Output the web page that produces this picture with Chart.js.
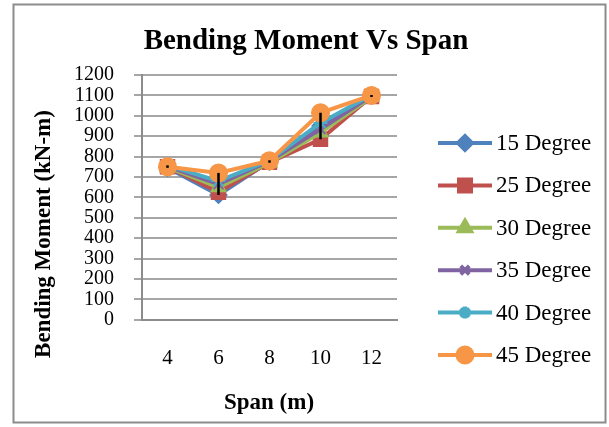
<!DOCTYPE html>
<html>
<head>
<meta charset="utf-8">
<title>Bending Moment Vs Span</title>
<script src="https://cdn.jsdelivr.net/npm/chart.js@4"></script>
<style>
  html, body { margin: 0; padding: 0; background: #fff; }
  #wrap { width: 609px; height: 427px; position: relative; }
</style>
</head>
<body>
<div id="wrap"><canvas id="chart" width="609" height="427"></canvas></div>
<script>
/* ── DATA ─────────────────────────────────────────────────── */
const spans = ['4', '6', '8', '10', '12'];
const deg15 = [745, 612, 775, 950, 1100];
const deg25 = [750, 625, 772, 885, 1095];
const deg30 = [748, 650, 770, 918, 1092];
const deg35 = [752, 665, 778, 935, 1098];
const deg40 = [757, 680, 782, 965, 1102];
const deg45 = [750, 720, 780, 1015, 1100];
const yTicks = [0, 100, 200, 300, 400, 500, 600, 700, 800, 900, 1000, 1100, 1200];

const series = [
  { label: '15 Degree', data: deg15, color: '#4F81BD', style: 'rectRot', r: 8 },
  { label: '25 Degree', data: deg25, color: '#C0504D', style: 'rect', r: 9.5 },
  { label: '30 Degree', data: deg30, color: '#9BBB59', style: 'triangle', r: 8 },
  { label: '35 Degree', data: deg35, color: '#8064A2', style: 'crossRot', r: 7 },
  { label: '40 Degree', data: deg40, color: '#4BACC6', style: 'star', r: 7 },
  { label: '45 Degree', data: deg45, color: '#F79646', style: 'circle', r: 8.5 }
];

const SERIF = '"Liberation Serif", "DejaVu Serif", serif';

/* ── PLUGINS ──────────────────────────────────────────────── */
// white background + grey outer frame
const frame = {
  id: 'frame',
  beforeDraw(chart) {
    const ctx = chart.ctx;
    ctx.save();
    ctx.fillStyle = '#fff';
    ctx.fillRect(0, 0, chart.width, chart.height);
    ctx.strokeStyle = '#8c8c8c';
    ctx.lineWidth = 2;
    ctx.strokeRect(13.5, 4.5, 592, 418);
    ctx.restore();
  }
};

// high-low lines: black stroke from highest to lowest series at each span
const hiLo = {
  id: 'hiLo',
  afterDatasetsDraw(chart) {
    const { ctx, scales: { x, y } } = chart;
    ctx.save();
    ctx.strokeStyle = '#000';
    ctx.lineWidth = 2.5;
    spans.forEach((_, i) => {
      const vals = series.map(s => s.data[i]);
      const px = x.getPixelForValue(i);
      ctx.beginPath();
      ctx.moveTo(px, y.getPixelForValue(Math.max(...vals)));
      ctx.lineTo(px, y.getPixelForValue(Math.min(...vals)));
      ctx.stroke();
    });
    ctx.restore();
  }
};

// title, axis titles and the Excel-like legend (line + marker)
const texts = {
  id: 'texts',
  afterDraw(chart) {
    const ctx = chart.ctx;
    ctx.save();
    ctx.fillStyle = '#000';
    ctx.textAlign = 'center';
    ctx.textBaseline = 'middle';
    ctx.font = 'bold 29px ' + SERIF;
    ctx.fillText('Bending Moment Vs Span', 306, 42);
    ctx.font = 'bold 23px ' + SERIF;
    ctx.fillText('Span (m)', 269, 403);

    series.forEach((s, i) => {
      const cy = 143 + i * 42.4;
      ctx.strokeStyle = s.color;
      ctx.lineWidth = 4;
      ctx.beginPath(); ctx.moveTo(438, cy); ctx.lineTo(492, cy); ctx.stroke();
      ctx.fillStyle = s.color;
      Chart.helpers.drawPoint(ctx, { pointStyle: s.style, radius: s.r - 1, borderWidth: 2 }, 465, cy);
      ctx.fillStyle = '#000';
      ctx.font = '23px ' + SERIF;
      ctx.textAlign = 'left';
      ctx.fillText(s.label, 496, cy + 1);
    });

    ctx.translate(44, 234);
    ctx.rotate(-Math.PI / 2);
    ctx.font = 'bold 23px ' + SERIF;
    ctx.textAlign = 'center';
    ctx.fillStyle = '#000';
    ctx.fillText('Bending Moment (kN-m)', 0, 0);
    ctx.restore();
  }
};

/* ── CHART ────────────────────────────────────────────────── */
new Chart(document.getElementById('chart'), {
  type: 'line',
  data: {
    labels: spans,
    datasets: series.map((s, i) => ({
      label: s.label,
      data: s.data,
      borderColor: s.color,
      backgroundColor: s.color,
      pointBorderColor: s.color,
      pointBackgroundColor: s.color,
      pointStyle: s.style,
      pointRadius: s.r,
      pointBorderWidth: 2,
      borderWidth: 4,
      tension: 0,
      order: series.length - i
    }))
  },
  options: {
    responsive: false,
    animation: false,
    layout: { padding: { top: 75, left: 54, right: 212, bottom: 30 } },
    plugins: {
      legend: { display: false },
      tooltip: { enabled: false }
    },
    scales: {
      x: {
        offset: true,
        grid: { display: false, drawTicks: false },
        border: { color: '#8c8c8c', width: 2 },
        ticks: {
          color: '#000',
          padding: 26,
          font: { family: SERIF, size: 21 }
        }
      },
      y: {
        min: 0,
        max: 1200,
        afterBuildTicks: axis => { axis.ticks = yTicks.map(v => ({ value: v })); },
        grid: { color: '#a6a6a6', lineWidth: 2, tickLength: 8 },
        border: { color: '#8c8c8c', width: 2 },
        ticks: {
          color: '#000',
          padding: 20,
          autoSkip: false,
          font: { family: SERIF, size: 20 },
          callback: v => String(v)
        }
      }
    }
  },
  plugins: [frame, hiLo, texts]
});
</script>
</body>
</html>
